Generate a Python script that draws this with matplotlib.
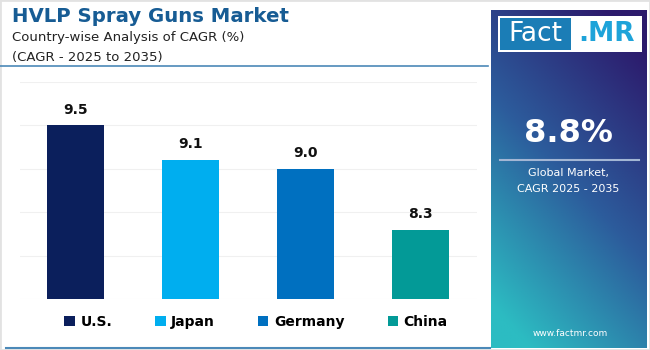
import numpy as np
import matplotlib.pyplot as plt
from matplotlib.patches import Rectangle

plt.rcParams['font.family'] = ['DejaVu Sans']

# data
countries = ['U.S.', 'Japan', 'Germany', 'China']
cagr = [9.5, 9.1, 9.0, 8.3]
bar_colors = ['#0b1f5c', '#00aeef', '#0070c0', '#039a97']
global_cagr = '8.8%'

fig = plt.figure(figsize=(6.5, 3.5), dpi=100)
fig.patch.set_facecolor('white')

# card border + bottom blue line
fig.add_artist(Rectangle((0, 0), 1, 1, transform=fig.transFigure,
                         fill=False, edgecolor='#e2e2e2', lw=2))
fig.add_artist(plt.Line2D([6 / 650, 490 / 650], [2 / 350, 2 / 350],
                          transform=fig.transFigure, color='#4b89b8', lw=1.5))

# titles
fig.text(12 / 650, 1 - 16 / 350, 'HVLP Spray Guns Market', fontsize=14.2,
         fontweight='bold', color='#175c94', va='center', ha='left')
fig.text(12 / 650, 1 - 38 / 350, 'Country-wise Analysis of CAGR (%)', fontsize=9.5,
         color='#222222', va='center', ha='left')
fig.text(12 / 650, 1 - 57 / 350, '(CAGR - 2025 to 2035)', fontsize=9.5,
         color='#222222', va='center', ha='left')
fig.add_artist(plt.Line2D([0, 488 / 650], [1 - 66 / 350, 1 - 66 / 350],
                          transform=fig.transFigure, color='#4b89b8', lw=1.2))

# bar chart
ax = fig.add_axes([20 / 650, 1 - 299 / 350, 457 / 650, 217 / 350])
x = np.arange(len(countries))
bars = ax.bar(x, cagr, width=0.5, color=bar_colors, zorder=3)
for xi, v in zip(x, cagr):
    ax.text(xi, v + 0.1, f'{v:.1f}', ha='center', va='bottom', fontsize=10,
            fontweight='bold', color='#111111')
ax.set_ylim(7.5, 10.0)
ax.set_xlim(-0.483, 3.49)
ax.set_yticks(np.arange(7.5, 10.01, 0.5))
ax.yaxis.grid(True, color='#f0f0f0', lw=0.8, zorder=0)
ax.set_xticks([])
ax.tick_params(left=False, labelleft=False)
for s in ax.spines.values():
    s.set_visible(False)

leg = fig.legend(bars, countries, loc='center', bbox_to_anchor=(256 / 650, 1 - 322 / 350),
                 ncol=4, frameon=False, handlelength=0.75, handleheight=0.75,
                 handletextpad=0.4, columnspacing=3.1,
                 prop={'weight': 'bold', 'size': 10})

# right panel with gradient
pax = fig.add_axes([491 / 650, 2 / 350, 155 / 650, 338 / 350])
ny, nx = 200, 100
yy, xx = np.mgrid[0:1:ny * 1j, 0:1:nx * 1j]
t = np.clip(0.8 * yy + 0.4 * (1 - xx) - 0.1, 0, 1)
top = np.array([0x2c, 0x1a, 0x6c]) / 255
mid = np.array([0x2c, 0x5c, 0x9c]) / 255
bot = np.array([0x2c, 0xbc, 0xc2]) / 255
t3 = t[..., None]
img = np.where(t3 < 0.5, top + (mid - top) * (t3 / 0.5), mid + (bot - mid) * ((t3 - 0.5) / 0.5))
pax.imshow(img, extent=[0, 1, 0, 1], aspect='auto', origin='upper')
pax.set_xlim(0, 1)
pax.set_ylim(0, 1)
pax.axis('off')

# logo
def py(yp):
    return (348 - yp) / 338

def px(xp):
    return (xp - 491) / 155

pax.add_patch(Rectangle((px(498), py(52)), px(642) - px(498), py(16) - py(52),
                        facecolor='white', edgecolor='none'))
pax.add_patch(Rectangle((px(500), py(50)), px(571) - px(500), py(18) - py(50),
                        facecolor='#1b7db6', edgecolor='none'))
pax.text(px(535), py(34), 'Fact', color='white', fontsize=19, ha='center', va='center')
pax.text(px(606), py(34), '.MR', color='#1ea3d9', fontsize=19, fontweight='bold',
         ha='center', va='center')

pax.text(px(568), py(133), global_cagr, color='white', fontsize=23, fontweight='bold',
         ha='center', va='center')
pax.plot([px(500), px(639)], [py(160), py(160)], color='#a3b6d4', lw=1.5)
pax.text(px(568), py(173), 'Global Market,', color='white', fontsize=8,
         ha='center', va='center')
pax.text(px(568), py(189), 'CAGR 2025 - 2035', color='white', fontsize=8,
         ha='center', va='center')
pax.text(px(570), py(333), 'www.factmr.com', color='white', fontsize=6.5,
         ha='center', va='center')

fig.savefig('out.png', dpi=100)
